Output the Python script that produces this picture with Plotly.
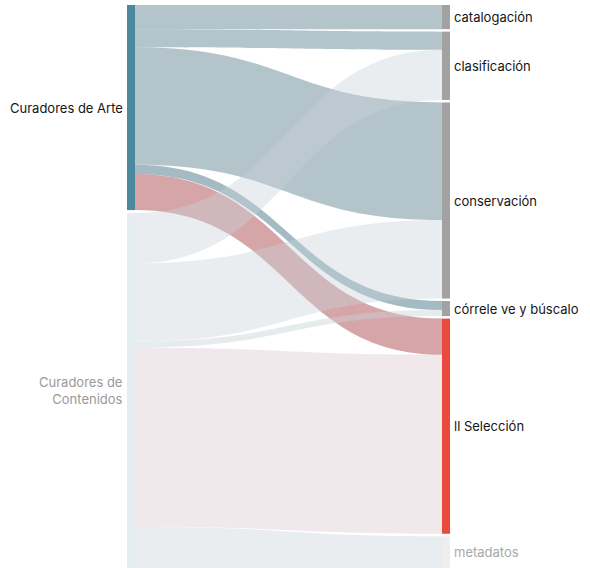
import plotly.graph_objects as go

# Nodes
sources = ["Curadores de Arte", "Curadores de Contenidos"]
targets = ["catalogación", "clasificación", "conservación",
           "córrele ve y búscalo", "ll Selección", "metadatos"]

# Flow from each source to each target (same order as `targets`)
arte = [24, 18, 117, 9, 36, 0]
contenidos = [0, 50, 78, 6, 178, 44]

source_colors = ["#4c899f", "#e6edf1"]
target_colors = ["#a2a2a2", "#a2a2a2", "#a2a2a2", "#a2a2a2", "#e84a3e", "#eeeeee"]
source_label_colors = ["#151515", "#9a9a9a"]
target_label_colors = ["#151515", "#151515", "#151515", "#151515", "#151515", "#a8a8a8"]

arte_link_colors = ["rgba(140,165,175,0.65)", "rgba(140,165,175,0.65)",
                    "rgba(140,165,175,0.65)", "rgba(115,150,165,0.65)",
                    "rgba(185,105,110,0.6)", "rgba(140,165,175,0.65)"]
cont_link_colors = ["rgba(200,210,215,0.4)", "rgba(200,210,215,0.4)",
                    "rgba(200,210,215,0.4)", "rgba(200,210,215,0.45)",
                    "rgba(215,195,200,0.38)", "rgba(200,210,215,0.4)"]

labels = sources + targets
n_src = len(sources)

link_source, link_target, link_value, link_color = [], [], [], []
for s, (vals, cols) in enumerate([(arte, arte_link_colors), (contenidos, cont_link_colors)]):
    for t, (v, c) in enumerate(zip(vals, cols)):
        if v > 0:
            link_source.append(s)
            link_target.append(n_src + t)
            link_value.append(v)
            link_color.append(c)

W, H = 590, 568
MT, MB = 5, 0
X0, X1 = 127, 450
THICK = 8
SRC_GAP = 3      # gap between the two source nodes
TGT_GAP = 2.5    # gap between target nodes (the last one runs past the bottom edge)

plot_h = H - MT - MB
plot_w = X1 - X0
src_tot = [sum(arte), sum(contenidos)]
tgt_tot = [a + c for a, c in zip(arte, contenidos)]
total = sum(tgt_tot)
# plotly scales node heights by the tallest column; with pad=0 that is plot_h / total
ky = plot_h / total


def spans(totals, gap):
    out, y = [], 0.0
    for v in totals:
        h = v * ky
        out.append((y, y + h))
        y += h + gap
    return out


src_sp = spans(src_tot, SRC_GAP)
tgt_sp = spans(tgt_tot, TGT_GAP)
node_x = [(THICK / 2) / plot_w] * len(sources) + [1 - (THICK / 2) / plot_w] * len(targets)
node_y = [((a + b) / 2) / plot_h for a, b in src_sp + tgt_sp]

fig = go.Figure(go.Sankey(
    domain=dict(x=[X0 / W, X1 / W], y=[0, 1]),
    arrangement="fixed",
    node=dict(
        label=[""] * len(labels),
        customdata=labels,
        hovertemplate="%{customdata}<extra></extra>",
        color=source_colors + target_colors,
        x=node_x,
        y=node_y,
        pad=0,
        thickness=THICK,
        line=dict(width=0),
    ),
    link=dict(
        source=link_source,
        target=link_target,
        value=link_value,
        color=link_color,
        hovertemplate="%{source.customdata} → %{target.customdata}: %{value}<extra></extra>",
    ),
))


def visible_center(span):
    a, b = span
    return (a + min(b, plot_h)) / 2


font = "Inter, 'Helvetica Neue', Arial, sans-serif"
annotations = []
for name, sp, col in zip(sources, src_sp, source_label_colors):
    annotations.append(dict(
        x=(X0 - 2) / W, y=1 - visible_center(sp) / plot_h, xref="paper", yref="paper",
        xanchor="right", yanchor="middle", align="right",
        text=name.replace("de Contenidos", "de<br>Contenidos"),
        showarrow=False, font=dict(family=font, size=13, color=col),
    ))
for name, sp, col in zip(targets, tgt_sp, target_label_colors):
    annotations.append(dict(
        x=(X1 + 2) / W, y=1 - visible_center(sp) / plot_h, xref="paper", yref="paper",
        xanchor="left", yanchor="middle", align="left",
        text=name, showarrow=False, font=dict(family=font, size=13, color=col),
    ))

fig.update_layout(
    width=W, height=H,
    margin=dict(l=0, r=0, t=MT, b=MB),
    paper_bgcolor="white",
    font=dict(family=font, size=13),
    annotations=annotations,
)

fig.write_html("out.html")
